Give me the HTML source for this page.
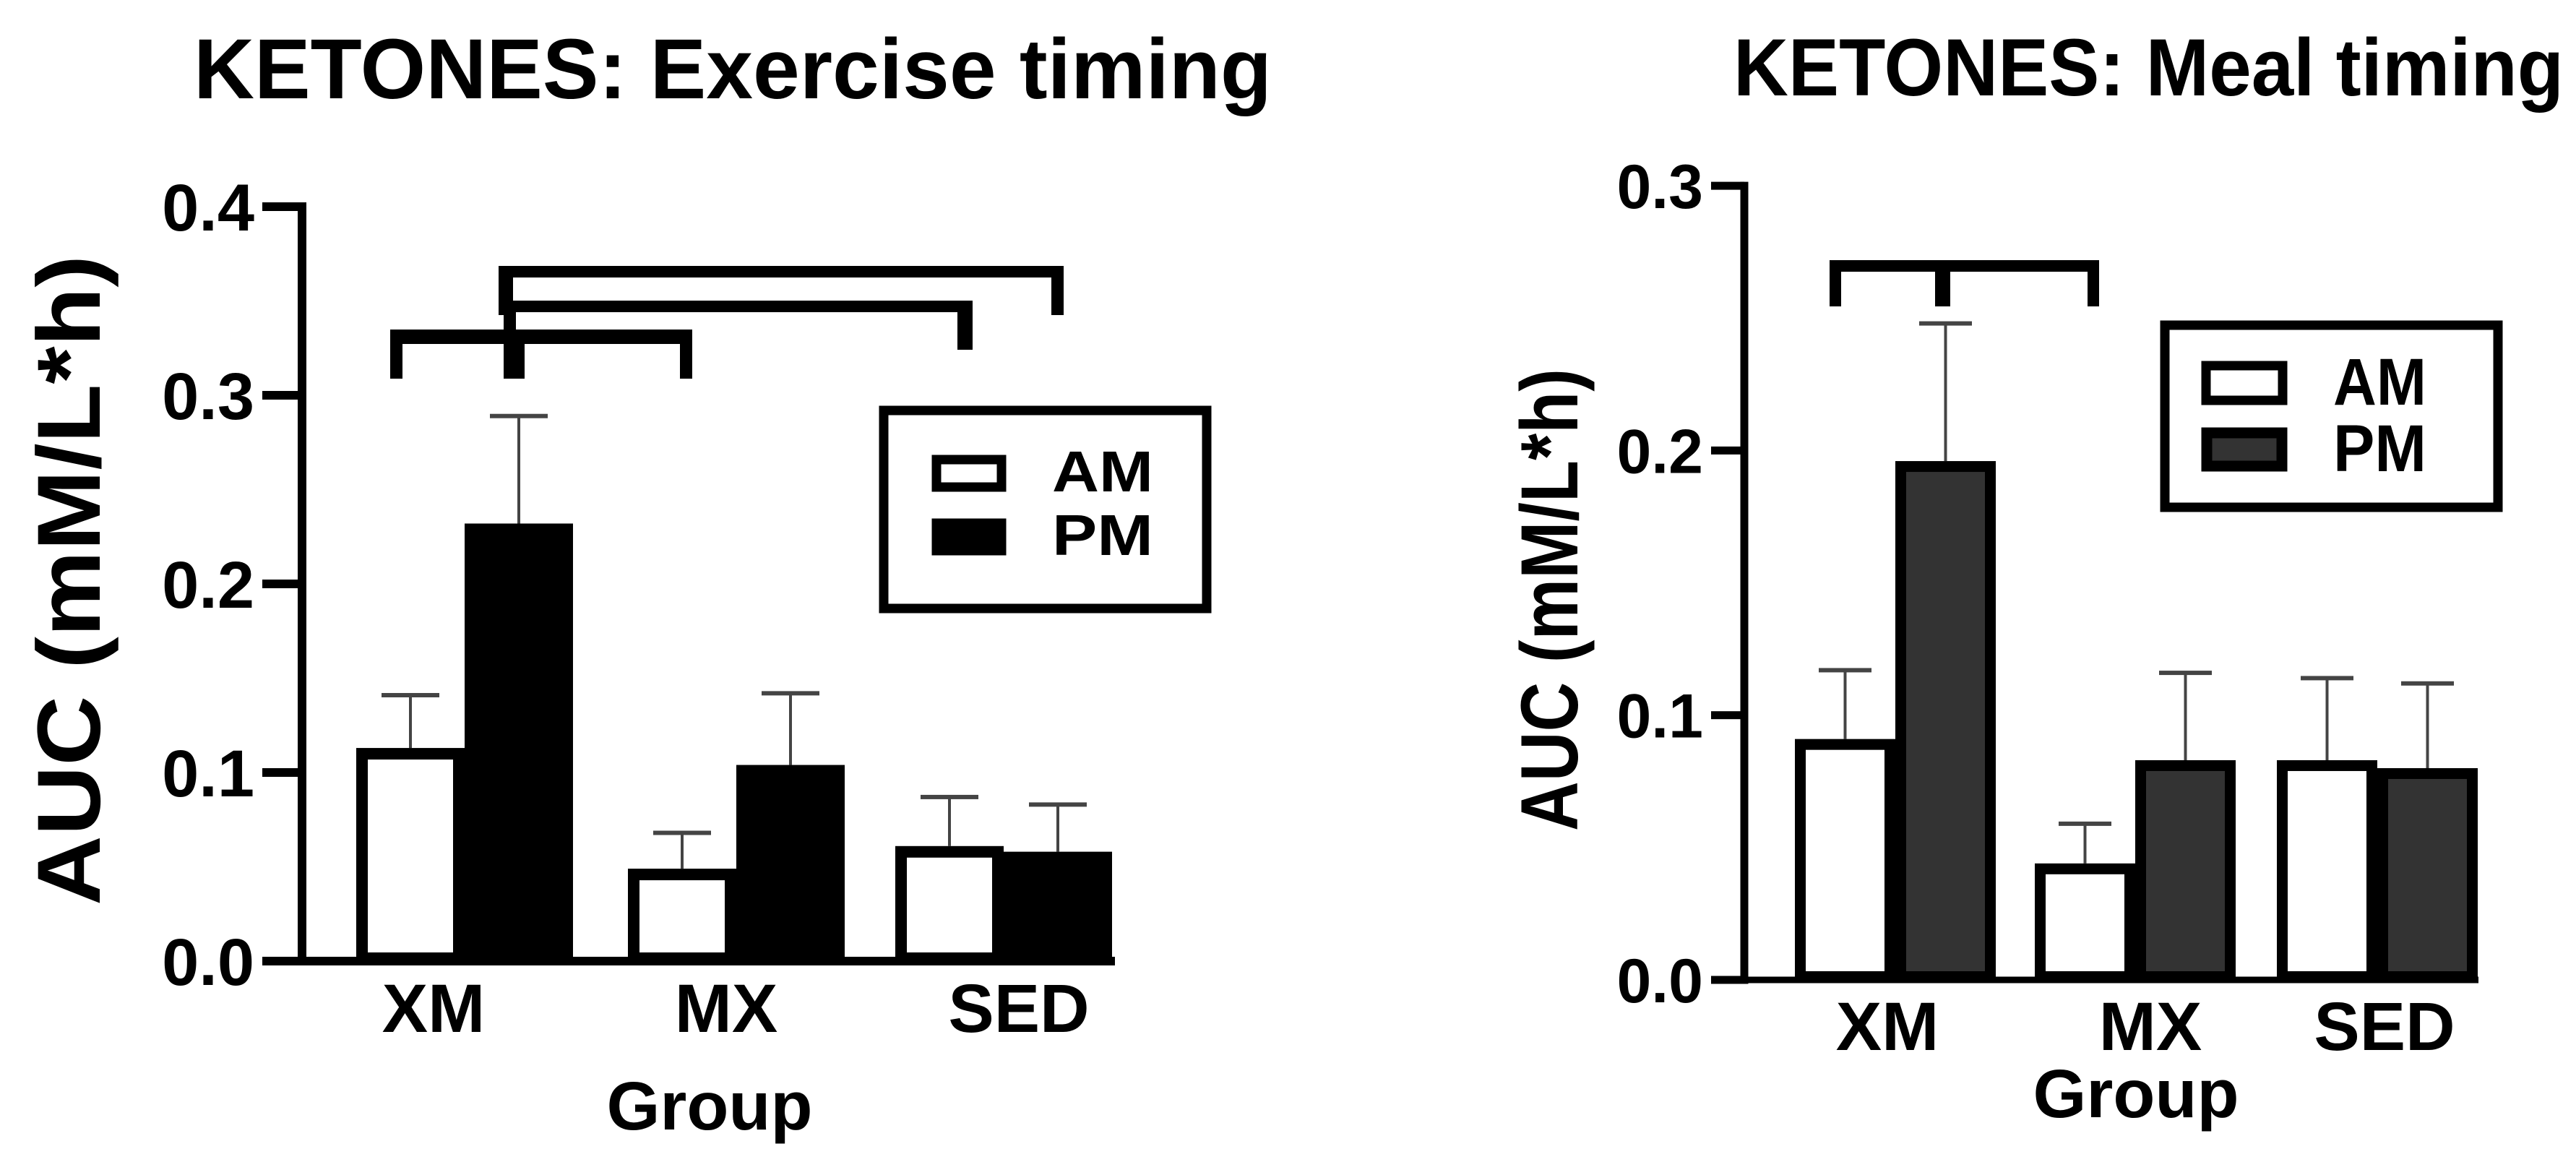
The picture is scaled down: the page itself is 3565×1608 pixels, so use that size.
<!DOCTYPE html>
<html><head><meta charset="utf-8"><style>
html,body{margin:0;padding:0;background:#fff;}
svg{display:block;font-family:"Liberation Sans",Arial,sans-serif;font-weight:bold;}
</style></head><body>
<svg id="fig" width="3565" height="1608" viewBox="0 0 3565 1608" xmlns="http://www.w3.org/2000/svg">
<text x="268" y="136" font-size="118" textLength="1492" lengthAdjust="spacingAndGlyphs">KETONES: Exercise timing</text>
<text x="2399" y="132" font-size="112" textLength="1149" lengthAdjust="spacingAndGlyphs">KETONES: Meal timing</text>
<text transform="translate(138,803) rotate(-90)" text-anchor="middle" font-size="124" textLength="900" lengthAdjust="spacingAndGlyphs">AUC (mM/L*h)</text>
<text transform="translate(2183,830) rotate(-90)" text-anchor="middle" font-size="112" textLength="640" lengthAdjust="spacingAndGlyphs">AUC (mM/L*h)</text>
<text x="982" y="1563" font-size="95" text-anchor="middle">Group</text>
<text x="2956" y="1546" font-size="95" text-anchor="middle">Group</text>
<g id="left"></g>
<g id="right"></g>
</svg>
<script>
// Left chart data (Exercise timing)
const categories = ["XM", "MX", "SED"];
const leftAM = [0.113, 0.049, 0.061];
const leftAMErr = [0.141, 0.068, 0.087];
const leftPM = [0.232, 0.104, 0.058];
const leftPMErr = [0.289, 0.142, 0.083];
const leftTicks = ["0.0", "0.1", "0.2", "0.3", "0.4"];
// Right chart data (Meal timing)
const rightAM = [0.091, 0.044, 0.083];
const rightAMErr = [0.117, 0.059, 0.114];
const rightPM = [0.196, 0.083, 0.080];
const rightPMErr = [0.248, 0.116, 0.112];
const rightTicks = ["0.0", "0.1", "0.2", "0.3"];

const NS = "http://www.w3.org/2000/svg";
function mk(parent, tag, attrs, text) {
  const el = document.createElementNS(NS, tag);
  for (const k in attrs) el.setAttribute(k, attrs[k]);
  if (text !== undefined) el.textContent = text;
  parent.appendChild(el);
  return el;
}

function drawChart(cfg) {
  const g = document.getElementById(cfg.id);
  const y = v => cfg.y0 - v * cfg.pxPerUnit;
  const cx = i => cfg.centers[i];
  let el = mk(g, "rect", {x: cfg.axisX - cfg.axW/2, y: y(cfg.ymax) - cfg.axW/2, width: cfg.axW, height: cfg.y0 - y(cfg.ymax) + cfg.axW, fill: "#000"});
  
  
  el = mk(g, "rect", {x: cfg.tickStart, y: cfg.y0 - cfg.xW/2, width: cfg.xEnd - cfg.tickStart, height: cfg.xW, fill: "#000"});
  
  
  cfg.ticks.forEach(t => {
    const v = parseFloat(t);
    const tk = mk(g, "rect", {x: cfg.tickStart, y: y(v) - cfg.axW/2, width: cfg.axisX - cfg.tickStart, height: cfg.axW, fill: "#000"});
    
    
    const tl = mk(g, "text", {x: cfg.labelRight, y: y(v) + cfg.tickFs*0.36, "font-size": cfg.tickFs, "text-anchor": "end"}, t);
    
    
  });
  categories.forEach((c, i) => {
    const series = [
      {v: cfg.am[i], e: cfg.amErr[i], x0: cx(i) - cfg.bw, fill: "#fff", name: "am"},
      {v: cfg.pm[i], e: cfg.pmErr[i], x0: cx(i), fill: cfg.pmFill, name: "pm"}
    ];
    series.forEach(s => {
      const mid = s.x0 + cfg.bw/2;
      const el1 = mk(g, "line", {x1: mid, x2: mid, y1: y(s.v), y2: y(s.e), stroke: "#444", "stroke-width": 4});
      
      
      const el2 = mk(g, "rect", {x: mid - cfg.capW/2, y: y(s.e) - 3, width: cfg.capW, height: 6, fill: "#444"});
      
      
      const outer = mk(g, "rect", {x: s.x0, y: y(s.v), width: cfg.bw, height: cfg.y0 - y(s.v), fill: "#000"});
      
      
      if (s.fill !== "#000") {
        const h = cfg.y0 - y(s.v) - cfg.b - cfg.bb;
        if (h > 0) {
          const inner = mk(g, "rect", {x: s.x0 + cfg.b, y: y(s.v) + cfg.b, width: cfg.bw - 2*cfg.b, height: h, fill: s.fill});
          
          
        }
      }
    });
    const lbl = mk(g, "text", {x: cfg.labelX[i], y: cfg.catBase, "font-size": 95, "text-anchor": "middle"}, c);
    
    
  });
  cfg.brackets.forEach(br => {
    const bg = mk(g, "g", {});
    
    
    br.forEach(r => mk(bg, "rect", {x: r[0], y: r[1], width: r[2]-r[0], height: r[3]-r[1], fill: "#000"}));
  });
  const L = cfg.legend;
  const lg = mk(g, "g", {});
  
  
  mk(lg, "rect", {x: L.x + 6, y: L.y + 6, width: L.w - 12, height: L.h - 12, fill: "#fff", stroke: "#000", "stroke-width": 13});
  const sw1 = mk(lg, "rect", {x: L.sx + 6, y: L.am[0] + 6, width: L.sw - 12, height: L.am[1] - L.am[0] - 12, fill: "#fff", stroke: "#000", "stroke-width": 13});
  
  
  const sw2 = mk(lg, "rect", {x: L.sx + 7, y: L.pm[0] + 7, width: L.sw - 14, height: L.pm[1] - L.pm[0] - 14, fill: cfg.pmFill, stroke: "#000", "stroke-width": 15});
  
  
  const t1 = mk(lg, "text", {x: L.tx, y: L.am[1], "font-size": L.fs, textLength: L.tw, lengthAdjust: "spacingAndGlyphs"}, "AM");
  
  
  const t2 = mk(lg, "text", {x: L.tx, y: L.pm[1], "font-size": L.fs, textLength: L.tw, lengthAdjust: "spacingAndGlyphs"}, "PM");
  
  
}

drawChart({
  id: "left", y0: 1330, pxPerUnit: 2610, ymax: 0.4, axisX: 418, axW: 12, xW: 12,
  tickStart: 363, xEnd: 1543, labelRight: 352, tickFs: 92, ticks: leftTicks,
  centers: [643, 1019, 1389], bw: 150, b: 16, bb: 12, capW: 80, pmFill: "#000",
  am: leftAM, amErr: leftAMErr, pm: leftPM, pmErr: leftPMErr,
  labelX: [600, 1005, 1410], catBase: 1428,
  brackets: [
    [[540,456,958,476],[540,456,557,524],[941,456,958,524],[697,456,726,524]],
    [[697,416,1346,432],[1325,416,1346,484],[697,416,714,456]],
    [[690,368,1472,384],[690,368,710,436],[1455,368,1472,436]]
  ],
  legend: {x: 1217, y: 562, w: 459, h: 286, sx: 1290, sw: 102, am: [630, 680], pm: [718, 768], tx: 1456, tw: 140, fs: 80}
});
drawChart({
  id: "right", y0: 1356, pxPerUnit: 3663, ymax: 0.3, axisX: 2414, axW: 11, xW: 9,
  tickStart: 2368, xEnd: 3430, labelRight: 2357, tickFs: 86, ticks: rightTicks,
  centers: [2623, 2955, 3290], bw: 139, b: 15, bb: 12, capW: 73, pmFill: "#333",
  am: rightAM, amErr: rightAMErr, pm: rightPM, pmErr: rightPMErr,
  labelX: [2612, 2976, 3300], catBase: 1453,
  brackets: [
    [[2532,360,2905,376],[2532,360,2548,424],[2889,360,2905,424],[2678,360,2699,424]]
  ],
  legend: {x: 2990, y: 444, w: 473, h: 264, sx: 3047, sw: 118, am: [500, 560], pm: [592, 652], tx: 3229, tw: 129, fs: 92}
});
</script>
</body></html>
